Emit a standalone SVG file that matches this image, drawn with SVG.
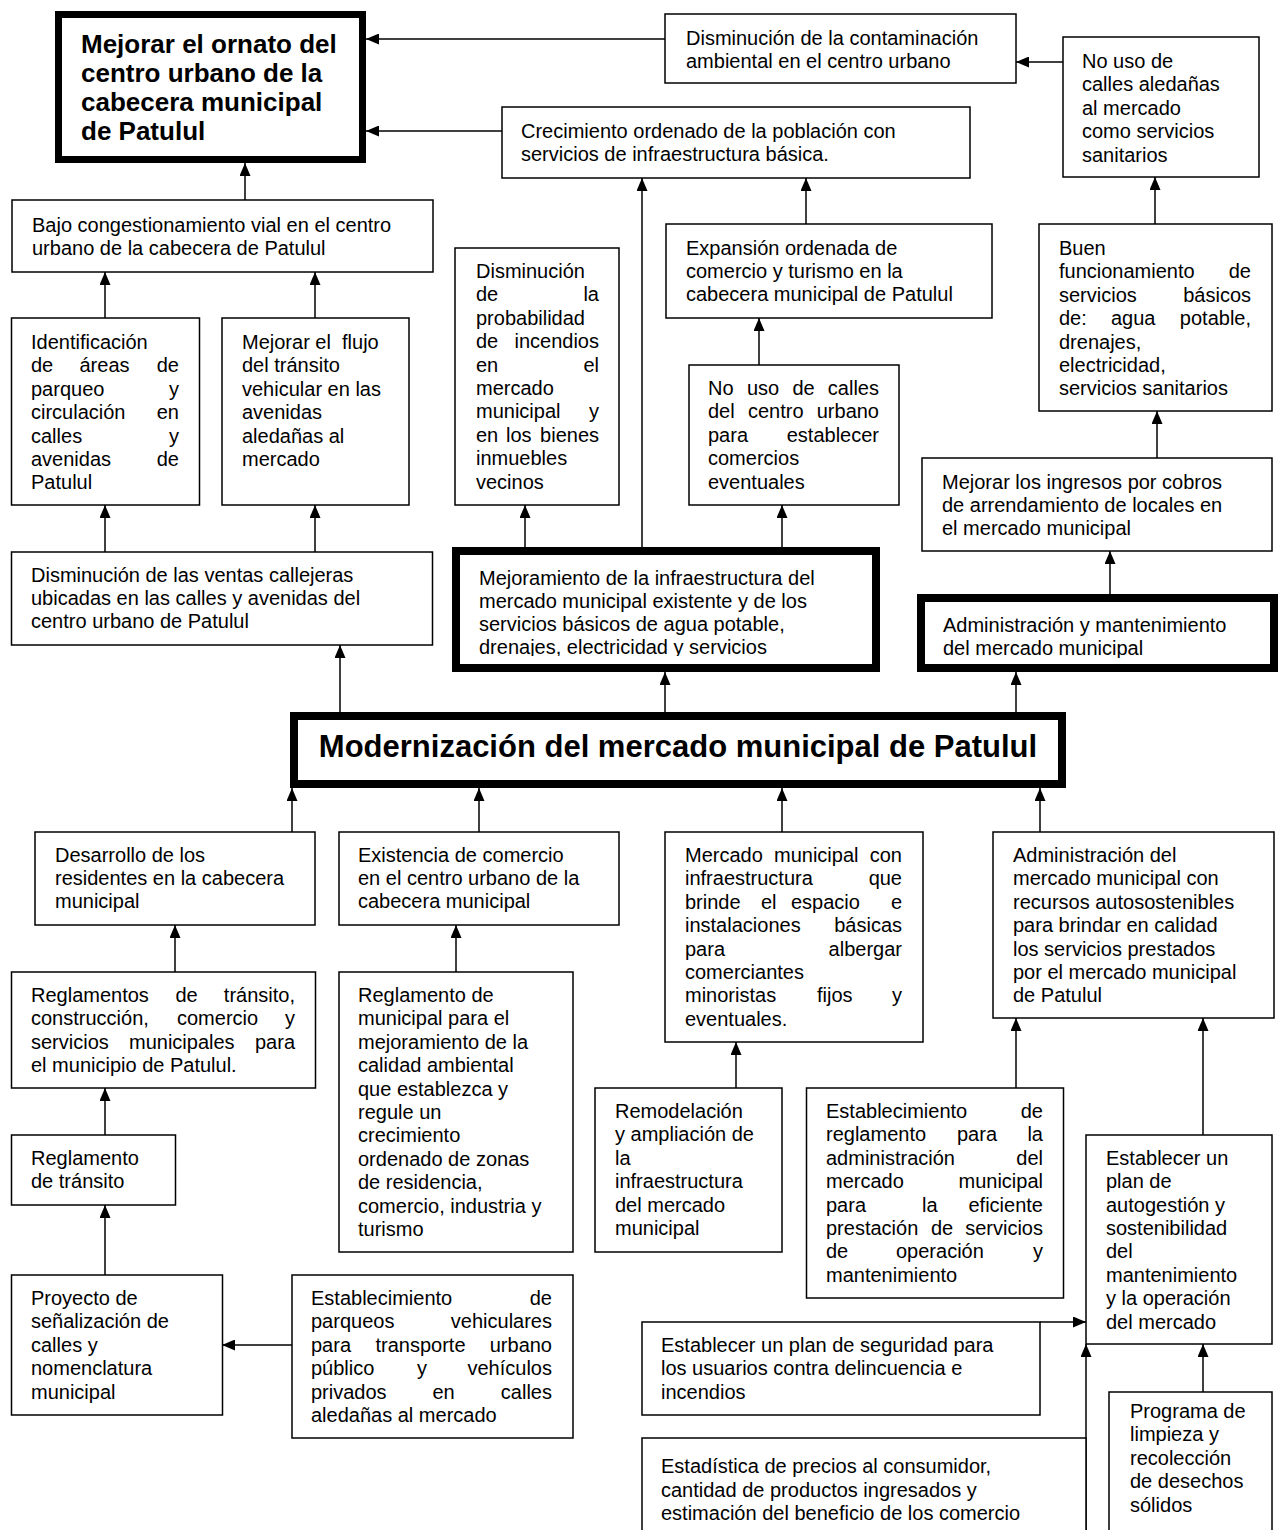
<svg xmlns="http://www.w3.org/2000/svg" width="1283" height="1530" viewBox="0 0 1283 1530">
<defs>
<marker id="ah" markerUnits="userSpaceOnUse" markerWidth="13" markerHeight="11" refX="13" refY="5.5" orient="auto">
<path d="M0,0 L13,5.5 L0,11 z" fill="#000"/>
</marker>
<clipPath id="clipMej"><rect x="460" y="555" width="412" height="101"/></clipPath>
<clipPath id="clipAdm"><rect x="925" y="602" width="345" height="56"/></clipPath>
</defs>
<style>
.b{fill:#fff;stroke:#000;stroke-width:1.5}
.k{fill:#fff;stroke:#000;stroke-width:8}
.t{font-family:"Liberation Sans",Arial,Helvetica,sans-serif;font-size:20px;fill:#000}
.e{text-anchor:end}
.tb{font-weight:bold;font-size:26px}
.tm{font-weight:bold;font-size:31px;text-anchor:middle}
#connectors line{stroke:#000;stroke-width:1.5;marker-end:url(#ah)}
</style>
<rect width="1283" height="1530" fill="#fff"/>

<g id="connectors">
<line x1="665" y1="39" x2="366" y2="39"/>
<line x1="502" y1="131" x2="366" y2="131"/>
<line x1="1063" y1="62" x2="1016" y2="62"/>
<line x1="245" y1="200" x2="245" y2="163"/>
<line x1="105" y1="318" x2="105" y2="272"/>
<line x1="315" y1="318" x2="315" y2="272"/>
<line x1="105" y1="552" x2="105" y2="505"/>
<line x1="315" y1="552" x2="315" y2="505"/>
<line x1="340" y1="712" x2="340" y2="645"/>
<line x1="525" y1="547" x2="525" y2="505"/>
<line x1="642" y1="547" x2="642" y2="178"/>
<line x1="782" y1="547" x2="782" y2="505"/>
<line x1="759" y1="365" x2="759" y2="318"/>
<line x1="806" y1="224" x2="806" y2="178"/>
<line x1="665" y1="712" x2="665" y2="672"/>
<line x1="1016" y1="712" x2="1016" y2="672"/>
<line x1="1110" y1="594" x2="1110" y2="551"/>
<line x1="1157" y1="458" x2="1157" y2="411"/>
<line x1="1155" y1="224" x2="1155" y2="177"/>
<line x1="292" y1="832" x2="292" y2="788"/>
<line x1="479" y1="832" x2="479" y2="788"/>
<line x1="782" y1="832" x2="782" y2="788"/>
<line x1="1040" y1="832" x2="1040" y2="788"/>
<line x1="175" y1="972" x2="175" y2="925"/>
<line x1="456" y1="972" x2="456" y2="925"/>
<line x1="105" y1="1135" x2="105" y2="1088"/>
<line x1="105" y1="1275" x2="105" y2="1205"/>
<line x1="292" y1="1345" x2="222" y2="1345"/>
<line x1="736" y1="1088" x2="736" y2="1042"/>
<line x1="1016" y1="1088" x2="1016" y2="1018"/>
<line x1="1203" y1="1135" x2="1203" y2="1018"/>
<line x1="1040" y1="1322" x2="1086" y2="1322"/>
<line x1="1086" y1="1535" x2="1086" y2="1344"/>
<line x1="1203" y1="1392" x2="1203" y2="1344"/>
</g>

<g id="n-ornato">
<rect x="58.5" y="14.5" width="304" height="145" fill="#fff" stroke="#000" stroke-width="7"/>
<text class="t tb"><tspan x="81" y="53">Mejorar el ornato del</tspan><tspan x="81" y="82">centro urbano de la</tspan><tspan x="81" y="111">cabecera municipal</tspan><tspan x="81" y="140">de Patulul</tspan></text>
</g>

<g id="n-contaminacion">
<rect class="b" x="665" y="14" width="351" height="69"/>
<text class="t"><tspan x="686" y="45">Disminución de la contaminación</tspan><tspan x="686" y="68">ambiental en el centro urbano</tspan></text>
</g>

<g id="n-nouso-aledanas">
<rect class="b" x="1063" y="37" width="196" height="140"/>
<text class="t"><tspan x="1082" y="68">No uso de</tspan><tspan x="1082" y="91">calles aledañas</tspan><tspan x="1082" y="115">al mercado</tspan><tspan x="1082" y="138">como servicios</tspan><tspan x="1082" y="162">sanitarios</tspan></text>
</g>

<g id="n-crecimiento">
<rect class="b" x="502" y="107" width="468" height="71"/>
<text class="t"><tspan x="521" y="138">Crecimiento ordenado de la población con</tspan><tspan x="521" y="161">servicios de infraestructura básica.</tspan></text>
</g>

<g id="n-congestionamiento">
<rect class="b" x="12" y="200" width="421" height="72"/>
<text class="t"><tspan x="32" y="232">Bajo congestionamiento vial en el centro</tspan><tspan x="32" y="255">urbano de la cabecera de Patulul</tspan></text>
</g>

<g id="n-identificacion">
<rect class="b" x="11.5" y="318" width="188" height="187"/>
<text class="t"><tspan x="31" y="349">Identificación</tspan><tspan x="31" y="372">de</tspan><tspan x="79.5" y="372">áreas</tspan><tspan x="31" y="396">parqueo</tspan><tspan x="31" y="419">circulación</tspan><tspan x="31" y="443">calles</tspan><tspan x="31" y="466">avenidas</tspan><tspan x="31" y="489">Patulul</tspan></text>
<text class="t e"><tspan x="179" y="372">de</tspan><tspan x="179" y="396">y</tspan><tspan x="179" y="419">en</tspan><tspan x="179" y="443">y</tspan><tspan x="179" y="466">de</tspan></text>
</g>

<g id="n-flujo">
<rect class="b" x="222" y="318" width="187" height="187"/>
<text class="t" style="white-space:pre"><tspan x="242" y="349">Mejorar el  flujo</tspan><tspan x="242" y="372">del tránsito</tspan><tspan x="242" y="396">vehicular en las</tspan><tspan x="242" y="419">avenidas</tspan><tspan x="242" y="443">aledañas al</tspan><tspan x="242" y="466">mercado</tspan></text>
</g>

<g id="n-ventas">
<rect class="b" x="11.5" y="552" width="421" height="93"/>
<text class="t"><tspan x="31" y="582">Disminución de las ventas callejeras</tspan><tspan x="31" y="605">ubicadas en las calles y avenidas del</tspan><tspan x="31" y="628">centro urbano de Patulul</tspan></text>
</g>

<g id="n-incendios">
<rect class="b" x="455" y="248" width="164" height="257"/>
<text class="t"><tspan x="476" y="278">Disminución</tspan><tspan x="476" y="301">de</tspan><tspan x="476" y="325">probabilidad</tspan><tspan x="476" y="348">de</tspan><tspan x="476" y="372">en</tspan><tspan x="476" y="395">mercado</tspan><tspan x="476" y="418">municipal</tspan><tspan x="476" y="442">en</tspan><tspan x="506" y="442">los</tspan><tspan x="476" y="465">inmuebles</tspan><tspan x="476" y="489">vecinos</tspan></text>
<text class="t e"><tspan x="599" y="301">la</tspan><tspan x="599" y="348">incendios</tspan><tspan x="599" y="372">el</tspan><tspan x="599" y="418">y</tspan><tspan x="599" y="442">bienes</tspan></text>
</g>

<g id="n-expansion">
<rect class="b" x="666" y="224" width="326" height="94"/>
<text class="t"><tspan x="686" y="255">Expansión ordenada de</tspan><tspan x="686" y="278">comercio y turismo en la</tspan><tspan x="686" y="301">cabecera municipal de Patulul</tspan></text>
</g>

<g id="n-nouso-centro">
<rect class="b" x="689" y="365" width="210" height="140"/>
<text class="t"><tspan x="708" y="395">No</tspan><tspan x="747" y="395">uso</tspan><tspan x="792.5" y="395">de</tspan><tspan x="708" y="418">del</tspan><tspan x="748" y="418">centro</tspan><tspan x="708" y="442">para</tspan><tspan x="708" y="465">comercios</tspan><tspan x="708" y="489">eventuales</tspan></text>
<text class="t e"><tspan x="879" y="395">calles</tspan><tspan x="879" y="418">urbano</tspan><tspan x="879" y="442">establecer</tspan></text>
</g>

<g id="n-mejoramiento">
<rect class="k" x="456" y="551" width="420" height="117"/>
<text class="t" clip-path="url(#clipMej)"><tspan x="479" y="585">Mejoramiento de la infraestructura del</tspan><tspan x="479" y="608">mercado municipal existente y de los</tspan><tspan x="479" y="631">servicios básicos de agua potable,</tspan><tspan x="479" y="654">drenajes, electricidad y servicios</tspan></text>
</g>

<g id="n-buen">
<rect class="b" x="1039" y="224" width="233" height="187"/>
<text class="t"><tspan x="1059" y="255">Buen</tspan><tspan x="1059" y="278">funcionamiento</tspan><tspan x="1059" y="302">servicios</tspan><tspan x="1059" y="325">de:</tspan><tspan x="1111" y="325">agua</tspan><tspan x="1059" y="349">drenajes,</tspan><tspan x="1059" y="372">electricidad,</tspan><tspan x="1059" y="395">servicios sanitarios</tspan></text>
<text class="t e"><tspan x="1251" y="278">de</tspan><tspan x="1251" y="302">básicos</tspan><tspan x="1251" y="325">potable,</tspan></text>
</g>

<g id="n-ingresos">
<rect class="b" x="922" y="458" width="350" height="93"/>
<text class="t"><tspan x="942" y="489">Mejorar los ingresos por cobros</tspan><tspan x="942" y="512">de arrendamiento de locales en</tspan><tspan x="942" y="535">el mercado municipal</tspan></text>
</g>

<g id="n-administracion-mant">
<rect class="k" x="921" y="598" width="353" height="70"/>
<text class="t" clip-path="url(#clipAdm)"><tspan x="943" y="632">Administración y mantenimiento</tspan><tspan x="943" y="655">del mercado municipal</tspan></text>
</g>

<g id="n-modernizacion">
<rect class="k" x="294" y="716" width="768" height="68"/>
<text class="t tm" x="678" y="757">Modernización del mercado municipal de Patulul</text>
</g>

<g id="n-desarrollo">
<rect class="b" x="35" y="832" width="280" height="93"/>
<text class="t"><tspan x="55" y="862">Desarrollo de los</tspan><tspan x="55" y="885">residentes en la cabecera</tspan><tspan x="55" y="908">municipal</tspan></text>
</g>

<g id="n-existencia">
<rect class="b" x="339" y="832" width="280" height="93"/>
<text class="t"><tspan x="358" y="862">Existencia de comercio</tspan><tspan x="358" y="885">en el centro urbano de la</tspan><tspan x="358" y="908">cabecera municipal</tspan></text>
</g>

<g id="n-mercado-infra">
<rect class="b" x="665" y="832" width="258" height="210"/>
<text class="t"><tspan x="685" y="862">Mercado</tspan><tspan x="774" y="862">municipal</tspan><tspan x="685" y="885">infraestructura</tspan><tspan x="685" y="909">brinde</tspan><tspan x="761" y="909">el</tspan><tspan x="791" y="909">espacio</tspan><tspan x="685" y="932">instalaciones</tspan><tspan x="685" y="956">para</tspan><tspan x="685" y="979">comerciantes</tspan><tspan x="685" y="1002">minoristas</tspan><tspan x="817" y="1002">fijos</tspan><tspan x="685" y="1026">eventuales.</tspan></text>
<text class="t e"><tspan x="902" y="862">con</tspan><tspan x="902" y="885">que</tspan><tspan x="902" y="909">e</tspan><tspan x="902" y="932">básicas</tspan><tspan x="902" y="956">albergar</tspan><tspan x="902" y="1002">y</tspan></text>
</g>

<g id="n-administracion-rec">
<rect class="b" x="993" y="832" width="281" height="186"/>
<text class="t"><tspan x="1013" y="862">Administración del</tspan><tspan x="1013" y="885">mercado municipal con</tspan><tspan x="1013" y="909">recursos autosostenibles</tspan><tspan x="1013" y="932">para brindar en calidad</tspan><tspan x="1013" y="956">los servicios prestados</tspan><tspan x="1013" y="979">por el mercado municipal</tspan><tspan x="1013" y="1002">de Patulul</tspan></text>
</g>

<g id="n-reglamentos">
<rect class="b" x="11.5" y="972" width="304" height="116"/>
<text class="t"><tspan x="31" y="1002">Reglamentos</tspan><tspan x="175.5" y="1002">de</tspan><tspan x="31" y="1025">construcción,</tspan><tspan x="177" y="1025">comercio</tspan><tspan x="31" y="1049">servicios</tspan><tspan x="129" y="1049">municipales</tspan><tspan x="31" y="1072">el municipio de Patulul.</tspan></text>
<text class="t e"><tspan x="295" y="1002">tránsito,</tspan><tspan x="295" y="1025">y</tspan><tspan x="295" y="1049">para</tspan></text>
</g>

<g id="n-reglamento-municipal">
<rect class="b" x="339" y="972" width="234" height="280"/>
<text class="t"><tspan x="358" y="1002">Reglamento de</tspan><tspan x="358" y="1025">municipal para el</tspan><tspan x="358" y="1049">mejoramiento de la</tspan><tspan x="358" y="1072">calidad ambiental</tspan><tspan x="358" y="1096">que establezca y</tspan><tspan x="358" y="1119">regule un</tspan><tspan x="358" y="1142">crecimiento</tspan><tspan x="358" y="1166">ordenado de zonas</tspan><tspan x="358" y="1189">de residencia,</tspan><tspan x="358" y="1213">comercio, industria y</tspan><tspan x="358" y="1236">turismo</tspan></text>
</g>

<g id="n-transito">
<rect class="b" x="11.5" y="1135" width="164" height="70"/>
<text class="t"><tspan x="31" y="1165">Reglamento</tspan><tspan x="31" y="1188">de tránsito</tspan></text>
</g>

<g id="n-remodelacion">
<rect class="b" x="595" y="1088" width="187" height="164"/>
<text class="t"><tspan x="615" y="1118">Remodelación</tspan><tspan x="615" y="1141">y ampliación de</tspan><tspan x="615" y="1165">la</tspan><tspan x="615" y="1188">infraestructura</tspan><tspan x="615" y="1212">del mercado</tspan><tspan x="615" y="1235">municipal</tspan></text>
</g>

<g id="n-establecimiento-reglamento">
<rect class="b" x="806.5" y="1088" width="257" height="210"/>
<text class="t"><tspan x="826" y="1118">Establecimiento</tspan><tspan x="826" y="1141">reglamento</tspan><tspan x="957" y="1141">para</tspan><tspan x="826" y="1165">administración</tspan><tspan x="826" y="1188">mercado</tspan><tspan x="826" y="1212">para</tspan><tspan x="922" y="1212">la</tspan><tspan x="826" y="1235">prestación</tspan><tspan x="931" y="1235">de</tspan><tspan x="826" y="1258">de</tspan><tspan x="896" y="1258">operación</tspan><tspan x="826" y="1282">mantenimiento</tspan></text>
<text class="t e"><tspan x="1043" y="1118">de</tspan><tspan x="1043" y="1141">la</tspan><tspan x="1043" y="1165">del</tspan><tspan x="1043" y="1188">municipal</tspan><tspan x="1043" y="1212">eficiente</tspan><tspan x="1043" y="1235">servicios</tspan><tspan x="1043" y="1258">y</tspan></text>
</g>

<g id="n-autogestion">
<rect class="b" x="1086" y="1135" width="186" height="209"/>
<text class="t"><tspan x="1106" y="1165">Establecer un</tspan><tspan x="1106" y="1188">plan de</tspan><tspan x="1106" y="1212">autogestión y</tspan><tspan x="1106" y="1235">sostenibilidad</tspan><tspan x="1106" y="1258">del</tspan><tspan x="1106" y="1282">mantenimiento</tspan><tspan x="1106" y="1305">y la operación</tspan><tspan x="1106" y="1329">del mercado</tspan></text>
</g>

<g id="n-senalizacion">
<rect class="b" x="11.5" y="1275" width="211" height="140"/>
<text class="t"><tspan x="31" y="1305">Proyecto de</tspan><tspan x="31" y="1328">señalización de</tspan><tspan x="31" y="1352">calles y</tspan><tspan x="31" y="1375">nomenclatura</tspan><tspan x="31" y="1399">municipal</tspan></text>
</g>

<g id="n-parqueos">
<rect class="b" x="292" y="1275" width="281" height="163"/>
<text class="t"><tspan x="311" y="1305">Establecimiento</tspan><tspan x="311" y="1328">parqueos</tspan><tspan x="311" y="1352">para</tspan><tspan x="375.5" y="1352">transporte</tspan><tspan x="311" y="1375">público</tspan><tspan x="417" y="1375">y</tspan><tspan x="311" y="1399">privados</tspan><tspan x="432.5" y="1399">en</tspan><tspan x="311" y="1422">aledañas al mercado</tspan></text>
<text class="t e"><tspan x="552" y="1305">de</tspan><tspan x="552" y="1328">vehiculares</tspan><tspan x="552" y="1352">urbano</tspan><tspan x="552" y="1375">vehículos</tspan><tspan x="552" y="1399">calles</tspan></text>
</g>

<g id="n-seguridad">
<rect class="b" x="642" y="1322" width="398" height="93"/>
<text class="t"><tspan x="661" y="1352">Establecer un plan de seguridad para</tspan><tspan x="661" y="1375">los usuarios contra delincuencia e</tspan><tspan x="661" y="1399">incendios</tspan></text>
</g>

<g id="n-estadistica">
<rect class="b" x="642" y="1438" width="444" height="120"/>
<text class="t"><tspan x="661" y="1473">Estadística de precios al consumidor,</tspan><tspan x="661" y="1497">cantidad de productos ingresados y</tspan><tspan x="661" y="1520">estimación del beneficio de los comercio</tspan></text>
</g>

<g id="n-limpieza">
<rect class="b" x="1109" y="1392" width="163" height="160"/>
<text class="t"><tspan x="1130" y="1418">Programa de</tspan><tspan x="1130" y="1441">limpieza y</tspan><tspan x="1130" y="1465">recolección</tspan><tspan x="1130" y="1488">de desechos</tspan><tspan x="1130" y="1512">sólidos</tspan></text>
</g>
</svg>
